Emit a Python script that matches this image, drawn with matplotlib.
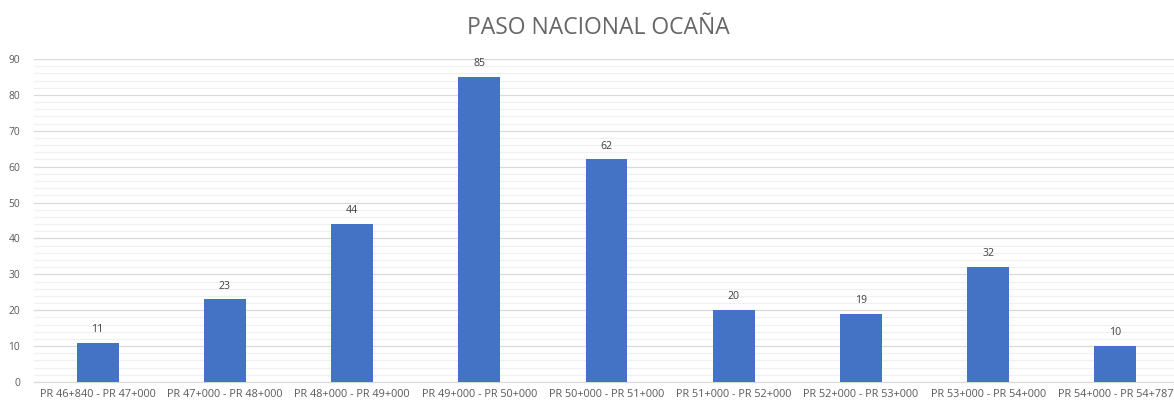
import numpy as np
import matplotlib
matplotlib.use("Agg")
import matplotlib.pyplot as plt
from matplotlib.ticker import MultipleLocator

# datos del grafico
tramos = ["PR 46+840 - PR 47+000", "PR 47+000 - PR 48+000", "PR 48+000 - PR 49+000",
          "PR 49+000 - PR 50+000", "PR 50+000 - PR 51+000", "PR 51+000 - PR 52+000",
          "PR 52+000 - PR 53+000", "PR 53+000 - PR 54+000", "PR 54+000 - PR 54+787"]
valores = [11, 23, 44, 85, 62, 20, 19, 32, 10]

plt.rcParams['font.family'] = ['Open Sans', 'DejaVu Sans']
txt = '#595959'

fig = plt.figure(figsize=(11.74, 4.05), dpi=100)
ax = fig.add_axes([34/1174, 23/405, 1145/1174, 323/405])

x = np.arange(len(tramos))
ax.bar(x, valores, width=0.33, color='#4472c4', zorder=3)
for xi, v in zip(x, valores):
    ax.text(xi, v + 2.2, str(v), ha='center', va='bottom', fontsize=7.6, color='#404040')

ax.set_xlim(-0.5, len(tramos) - 0.5)
ax.set_ylim(0, 90)
ax.yaxis.set_major_locator(MultipleLocator(10))
ax.yaxis.set_minor_locator(MultipleLocator(2))
ax.grid(axis='y', which='major', color='#d9d9d9', lw=0.9, zorder=0)
ax.grid(axis='y', which='minor', color='#f0f0f0', lw=0.9, zorder=0)
ax.set_xticks(x)
ax.set_xticklabels(tramos)
ax.tick_params(axis='both', which='both', length=0, labelsize=7.8, colors=txt, pad=5)
ax.tick_params(axis='y', pad=10, labelsize=7.4)
for s in ['top', 'right', 'left']:
    ax.spines[s].set_visible(False)
ax.spines['bottom'].set_color('#d9d9d9')

fig.text(0.51, 0.932, 'PASO NACIONAL OCAÑA', ha='center', va='center', fontsize=16.5,
         color='#666666')

fig.savefig('out.png', dpi=100)
